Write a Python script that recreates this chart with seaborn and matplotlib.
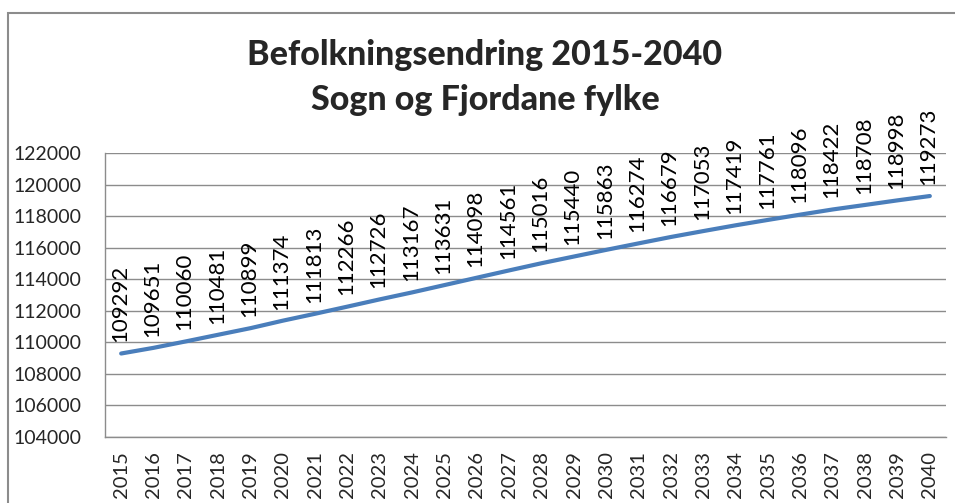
import numpy as np
import pandas as pd
import matplotlib
matplotlib.use("Agg")
import matplotlib.pyplot as plt
import seaborn as sns
from matplotlib.patches import Rectangle

# befolkning per år, lest av figuren
years = list(range(2015, 2041))
population = [109292, 109651, 110060, 110481, 110899, 111374, 111813, 112266,
              112726, 113167, 113631, 114098, 114561, 115016, 115440, 115863,
              116274, 116679, 117053, 117419, 117761, 118096, 118422, 118708,
              118998, 119273]
y_ticks = list(range(104000, 122001, 2000))

df = pd.DataFrame({"year": years, "population": population})

sns.set_style("white")
plt.rcParams["font.family"] = ["Lato", "DejaVu Sans"]

fig = plt.figure(figsize=(9.55, 5.03), dpi=100)
ax = fig.add_axes([105 / 955, 1 - 437 / 503, 841 / 955, 284 / 503])

sns.lineplot(data=df, x="year", y="population", ax=ax, color="#4a7ebb",
             linewidth=3, solid_capstyle="round")

for yr, val in zip(years, population):
    ax.annotate(str(val), (yr, val), xytext=(-1, 8), textcoords="offset points",
                rotation=90, ha="center", va="bottom", fontsize=16, color="black")

ax.set_xlim(2014.5, 2040.5)
ax.set_ylim(104000, 122000)
ax.set_yticks(y_ticks)
ax.set_xticks(years)
ax.set_xticklabels([str(y) for y in years], rotation=90)
ax.set_xticks(np.arange(2014.5, 2041, 1), minor=True)
ax.tick_params(axis="x", which="major", length=0, pad=10, labelsize=14.5)
ax.tick_params(axis="x", which="minor", length=6, width=1, color="#8c8c8c", direction="out")
ax.tick_params(axis="y", length=6, width=1, color="#8c8c8c", direction="out", pad=11, labelsize=14)
ax.set_xlabel("")
ax.set_ylabel("")
ax.grid(axis="y", color="#8c8c8c", linewidth=1)
ax.set_axisbelow(True)
for side in ["top", "right"]:
    ax.spines[side].set_visible(False)
for side in ["left", "bottom"]:
    ax.spines[side].set_color("#8c8c8c")
    ax.spines[side].set_linewidth(1)

fig.text(485 / 955, 1 - 55 / 503, "Befolkningsendring 2015-2040", ha="center", va="center",
         fontsize=24.5, fontweight="black")
fig.text(485 / 955, 1 - 100 / 503, "Sogn og Fjordane fylke", ha="center", va="center",
         fontsize=24.5, fontweight="black")

# ytre ramme rundt diagrammet
fig.patches.append(Rectangle((8 / 955, -0.05), 1.0, 1 - 13 / 503 + 0.05, transform=fig.transFigure,
                             fill=False, edgecolor="#8c8c8c", linewidth=1.5))

fig.savefig("out.png", dpi=100)
